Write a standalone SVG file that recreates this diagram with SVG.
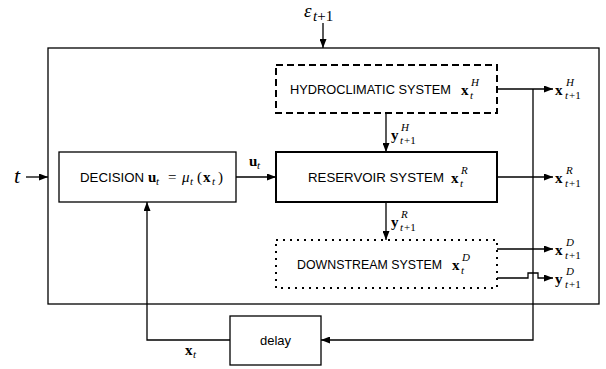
<svg xmlns="http://www.w3.org/2000/svg" width="606" height="369" viewBox="0 0 606 369">
  <defs>
    <marker id="arr" markerUnits="userSpaceOnUse" markerWidth="9" markerHeight="7" refX="9" refY="3.5" orient="auto">
      <path d="M0,0 L9,3.5 L0,7 z" fill="#000"/>
    </marker>
    <style>
      .box { fill: #fff; stroke: #000; stroke-width: 1.3; }
      .wire { fill: none; stroke: #000; stroke-width: 1.3; }
      .lbl { font-family: "Liberation Sans", Arial, sans-serif; font-size: 13px; fill: #000; }
      .mb { font-family: "Liberation Serif", "DejaVu Serif", serif; font-weight: bold; font-size: 15px; fill: #000; }
      .mi { font-family: "Liberation Serif", "DejaVu Serif", serif; font-style: italic; font-size: 11px; fill: #000; }
      .mr { font-family: "Liberation Serif", "DejaVu Serif", serif; font-size: 11px; fill: #000; }
      .m { font-family: "Liberation Serif", "DejaVu Serif", serif; font-size: 15px; fill: #000; }
    </style>
  </defs>

  <!-- enclosing system boundary -->
  <g id="system">
    <rect class="box" x="48" y="48" width="551" height="256"/>
  </g>

  <!-- connectors -->
  <g id="connectors">
    <line class="wire" x1="323" y1="23" x2="323" y2="48" marker-end="url(#arr)"/>
    <line class="wire" x1="26" y1="177" x2="48" y2="177" marker-end="url(#arr)"/>
    <line class="wire" x1="236" y1="177" x2="276" y2="177" marker-end="url(#arr)"/>
    <line class="wire" x1="386" y1="113" x2="386" y2="152" marker-end="url(#arr)"/>
    <line class="wire" x1="386" y1="202" x2="386" y2="240" marker-end="url(#arr)"/>
    <line class="wire" x1="497" y1="89" x2="553" y2="89" marker-end="url(#arr)"/>
    <line class="wire" x1="497" y1="177" x2="553" y2="177" marker-end="url(#arr)"/>
    <line class="wire" x1="497" y1="249" x2="553" y2="249" marker-end="url(#arr)"/>
    <path class="wire" d="M497,278 H528 V273 H538 V278 H553" marker-end="url(#arr)"/>
    <path class="wire" d="M533,89 V340 H321" marker-end="url(#arr)"/>
    <path class="wire" d="M230,340 H147 V202" marker-end="url(#arr)"/>
  </g>

  <!-- exogenous disturbance -->
  <g id="disturbance">
    <text x="304" y="17" font-family="'Liberation Serif', serif" font-style="italic" font-size="19">ε</text>
    <text x="313" y="21" font-family="'Liberation Serif', serif" font-size="15"><tspan font-style="italic">t</tspan>+1</text>
  </g>

  <!-- time input -->
  <g id="time">
    <text x="14" y="183" font-family="'Liberation Serif', serif" font-style="italic" font-size="22">t</text>
  </g>

  <g id="hydroclimatic">
    <rect x="276" y="65" width="221" height="48" fill="#fff" stroke="#000" stroke-width="2" stroke-dasharray="7 4"/>
    <text class="lbl" x="290" y="94" textLength="161" lengthAdjust="spacingAndGlyphs">HYDROCLIMATIC SYSTEM</text>
    <text class="mb" x="461" y="95">x</text>
    <text class="mi" x="471" y="86">H</text>
    <text class="mi" x="470" y="99">t</text>
  </g>

  <g id="reservoir">
    <rect x="276" y="152" width="221" height="50" fill="#fff" stroke="#000" stroke-width="2"/>
    <text class="lbl" x="308" y="182" textLength="136" lengthAdjust="spacingAndGlyphs">RESERVOIR SYSTEM</text>
    <text class="mb" x="451" y="183">x</text>
    <text class="mi" x="461" y="174">R</text>
    <text class="mi" x="460" y="187">t</text>
  </g>

  <g id="downstream">
    <rect x="276" y="240" width="221" height="48" fill="#fff" stroke="#000" stroke-width="2" stroke-dasharray="2 5"/>
    <text class="lbl" x="297" y="269" textLength="145" lengthAdjust="spacingAndGlyphs">DOWNSTREAM SYSTEM</text>
    <text class="mb" x="452" y="270">x</text>
    <text class="mi" x="462" y="261">D</text>
    <text class="mi" x="461" y="274">t</text>
  </g>

  <g id="decision">
    <rect class="box" x="59" y="152" width="177" height="50"/>
    <text class="lbl" x="80" y="182" textLength="64" lengthAdjust="spacingAndGlyphs">DECISION</text>
    <text class="mb" x="148" y="182">u</text>
    <text class="mi" x="156" y="185">t</text>
    <text class="m" x="168" y="182">=</text>
    <text class="m" x="182" y="182" font-style="italic">μ</text>
    <text class="mi" x="190" y="185">t</text>
    <text class="m" x="197" y="182">(</text>
    <text class="mb" x="203" y="182">x</text>
    <text class="mi" x="212" y="185">t</text>
    <text class="m" x="218" y="182">)</text>
  </g>

  <g id="delay">
    <rect class="box" x="230" y="316" width="91" height="49"/>
    <text class="lbl" x="275.5" y="345" font-size="14" text-anchor="middle">delay</text>
  </g>

  <!-- connector labels -->
  <g id="labels">
    <text class="mb" x="249" y="166">u</text>
    <text class="mi" x="257" y="169">t</text>

    <text class="mb" x="391" y="140">y</text>
    <text class="mi" x="401" y="131">H</text>
    <text class="mi" x="400" y="144">t</text><text class="mr" x="404" y="144">+1</text>

    <text class="mb" x="391" y="227">y</text>
    <text class="mi" x="401" y="218">R</text>
    <text class="mi" x="400" y="231">t</text><text class="mr" x="404" y="231">+1</text>

    <text class="mb" x="555" y="95">x</text>
    <text class="mi" x="566" y="86">H</text>
    <text class="mi" x="565" y="99">t</text><text class="mr" x="569" y="99">+1</text>

    <text class="mb" x="555" y="183">x</text>
    <text class="mi" x="566" y="174">R</text>
    <text class="mi" x="565" y="187">t</text><text class="mr" x="569" y="187">+1</text>

    <text class="mb" x="555" y="255">x</text>
    <text class="mi" x="566" y="246">D</text>
    <text class="mi" x="565" y="259">t</text><text class="mr" x="569" y="259">+1</text>

    <text class="mb" x="555" y="284">y</text>
    <text class="mi" x="566" y="275">D</text>
    <text class="mi" x="565" y="288">t</text><text class="mr" x="569" y="288">+1</text>

    <text class="mb" x="185" y="355">x</text>
    <text class="mi" x="193" y="358">t</text>
  </g>
</svg>
